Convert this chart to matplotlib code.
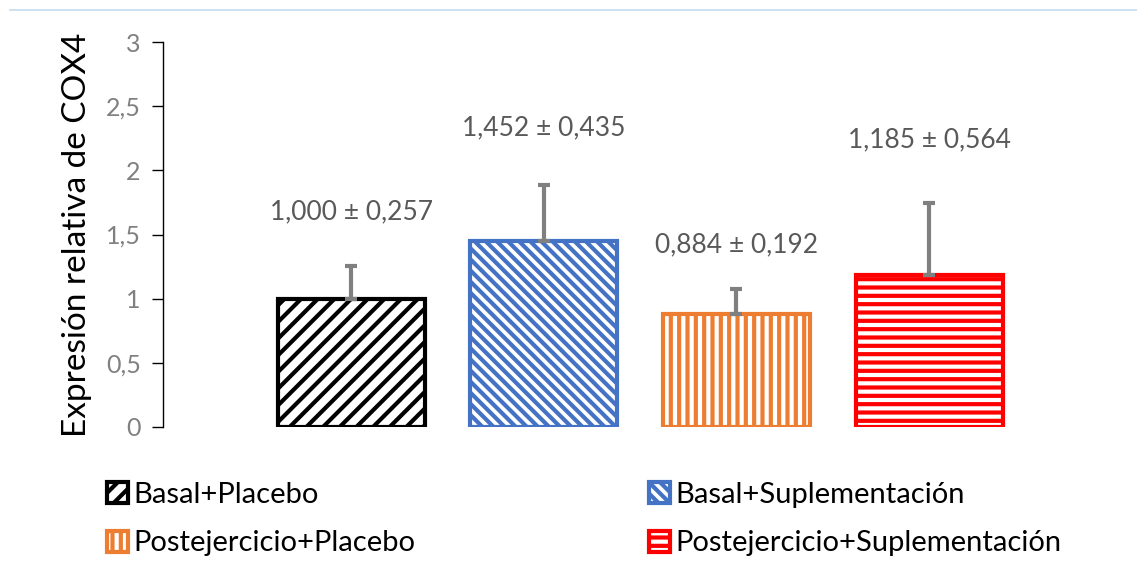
import numpy as np
import matplotlib
matplotlib.use('Agg')
import matplotlib.pyplot as plt
from matplotlib.lines import Line2D

# data
groups = ['Basal+Placebo', 'Basal+Suplementación',
          'Postejercicio+Placebo', 'Postejercicio+Suplementación']
means = [1.000, 1.452, 0.884, 1.185]
sds = [0.257, 0.435, 0.192, 0.564]
colors = ['#000000', '#4472c4', '#ed7d31', '#ff0000']
hatches = ['//', '\\\\\\', '||', '--']
label_y = [1.68, 2.33, 1.42, 2.24]
yticks = [0, 0.5, 1, 1.5, 2, 2.5, 3]

def fmt(v):
    return ('%.3f' % v).replace('.', ',')

def main():
    plt.rcParams['font.family'] = ['Lato', 'DejaVu Sans']
    plt.rcParams['hatch.linewidth'] = 3.0

    fig = plt.figure(figsize=(11.37, 5.77), dpi=100)
    ax = fig.add_axes([163 / 1137, 1 - 427 / 577, 954 / 1137, 385 / 577])

    x = np.arange(len(means))
    bars = ax.bar(x, means, width=0.763, color='white', edgecolor=colors,
                  linewidth=3, zorder=2)
    for b, h in zip(bars, hatches):
        b.set_hatch(h)
    ax.errorbar(x, means, yerr=[np.zeros(len(sds)), sds], fmt='none',
                ecolor='#808080', elinewidth=3, capsize=4.5, capthick=3, zorder=3)

    for xi, m, s, ly in zip(x, means, sds, label_y):
        ax.text(xi, ly, fmt(m) + ' ± ' + fmt(s), ha='center', va='center',
                fontsize=19, color='#595959')

    ax.set_xlim(-0.976, 3.975)
    ax.set_ylim(0, 3)
    ax.set_yticks(yticks)
    ax.set_yticklabels([('%g' % t).replace('.', ',') for t in yticks],
                       fontsize=18, color='#808080')
    ax.tick_params(axis='y', direction='out', length=8, width=1, pad=8)
    ax.set_xticks([])
    for side in ['top', 'right', 'bottom']:
        ax.spines[side].set_visible(False)
    ax.spines['left'].set_linewidth(1)
    ax.set_ylabel('Expresión relativa de COX4', fontsize=24, color='black',
                  labelpad=10)

    # legend, filled row by row like the original
    order = [0, 2, 1, 3]
    leg = ax.legend([bars[i] for i in order], [groups[i] for i in order],
                    ncol=2, loc='upper left',
                    bbox_to_anchor=(92 / 1137, 1 - 467 / 577),
                    bbox_transform=fig.transFigure, frameon=False,
                    fontsize=21, handlelength=0.72, handleheight=0.72,
                    handletextpad=0.2, columnspacing=8.0, labelspacing=0.78,
                    borderpad=0)
    for t in leg.get_texts():
        t.set_color('black')

    # chart border remnant at the top
    fig.add_artist(Line2D([10 / 1137, 1], [1 - 10 / 577, 1 - 10 / 577],
                          color='#c5dcef', linewidth=1.2,
                          transform=fig.transFigure))

    fig.savefig('out.png', dpi=100)

if __name__ == '__main__':
    main()
